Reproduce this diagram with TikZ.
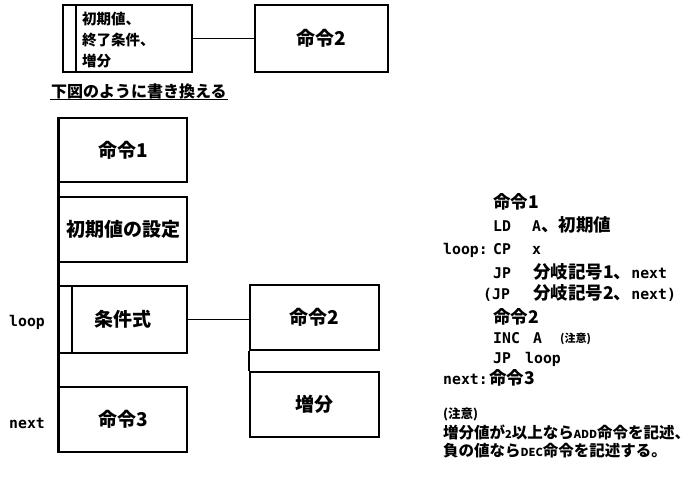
\documentclass[tikz,border=0pt]{standalone}
\usepackage{fontspec}
\newfontfamily\jp{Noto Sans CJK JP}
\newfontfamily\mono{DejaVu Sans Mono}
\newcommand\codejp{\jp\bfseries\fontsize{17.5}{20}\selectfont}
\newcommand\codemono{\mono\bfseries\fontsize{14.8}{17}\selectfont}
\newcommand\notejp{\jp\bfseries\fontsize{15.5}{18}\selectfont}
\newcommand\notesmall{\jp\bfseries\fontsize{11}{12}\selectfont}
\begin{document}
\begin{tikzpicture}[x=1pt,y=-1pt,
  box/.style={draw, line width=1.8pt, inner sep=0pt, font=\jp\bfseries\fontsize{19}{22}\selectfont},
  colbox/.style={box, minimum width=128pt, minimum height=65pt},
  rbox/.style={box, minimum width=129pt, minimum height=65pt},
  code/.style={anchor=base west, inner sep=0pt},
  lbl/.style={anchor=west, inner sep=0pt, font=\codemono}]
\useasboundingbox (0,0) rectangle (692,486);
% top part
\node[box, minimum width=129pt, minimum height=67pt] (t1) at (127.5,38.5) {};
\node[anchor=west, align=left, inner sep=0pt, font=\jp\bfseries\fontsize{14.5}{21}\selectfont] (t1txt) at (82,40) {初期値、\\終了条件、\\増分};
\node[box, minimum width=133pt, minimum height=67pt] (t2) at (321.5,38.5) {命令2};
\draw[line width=1.8pt] ([xshift=14pt]t1.north west) -- ([xshift=14pt]t1.south west);
\draw[line width=1.3pt] (t1.east) -- (t2.west);
\node[anchor=west, inner sep=1pt, font=\jp\bfseries\fontsize{16}{18}\selectfont] (h) at (50,91) {下図のように書き換える};
\draw[line width=1pt] (h.south west) -- (h.south east);
% left column
\node[colbox, minimum height=64pt] (b1) at (123,150) {命令1};
\node[colbox] (b2) at (123,229.5) {初期値の設定};
\node[colbox, minimum height=67pt] (b3) at (123,319.5) {条件式};
\node[colbox] (b4) at (123,419.5) {命令3};
\draw[line width=3pt] (b1.north west) -- (b4.south west);
\draw[line width=1.8pt] ([xshift=14pt]b3.north west) -- ([xshift=14pt]b3.south west);
% right column
\node[rbox] (r1) at (314.5,317.5) {命令2};
\node[rbox] (r2) at (314.5,404.5) {増分};
\draw[line width=1.8pt] (r1.south west) -- (r2.north west);
\draw[line width=1pt] (b3.east) -- (b3.east -| r1.west);
% labels
\node[lbl] (lloop) at (9,322) {loop};
\node[lbl] (lnext) at (9,423) {next};
% code
\node[code] (c1) at (493,208) {\codejp 命令1};
\node[code] (c2a) at (493,231) {\codemono LD};
\node[code] (c2b) at (532,231) {\codemono A\codejp 、初期値};
\node[code] (c3a) at (443,254) {\codemono loop:};
\node[code] (c3b) at (493,254) {\codemono CP};
\node[code] (c3c) at (532,254) {\codemono x};
\node[code] (c4a) at (493,278) {\codemono JP};
\node[code] (c4b) at (533,278) {\codejp 分岐記号1、\codemono next};
\node[code] (c5a) at (483,299) {\codemono (JP};
\node[code] (c5b) at (533,299) {\codejp 分岐記号2、\codemono next)};
\node[code] (c6) at (493,323) {\codejp 命令2};
\node[code] (c7a) at (493,343) {\codemono INC};
\node[code] (c7b) at (533,343) {\codemono A};
\node[code] (c7c) at (560,342) {\notesmall (注意)};
\node[code] (c8a) at (493,363) {\codemono JP};
\node[code] (c8b) at (525,363) {\codemono loop};
\node[code] (c9a) at (443,384) {\codemono next:};
\node[code] (c9b) at (489,384) {\codejp 命令3};
% note
\node[code] (n1) at (443,418) {\jp\bfseries\fontsize{12.5}{14}\selectfont (注意)};
\node[code] (n2) at (443,438) {\notejp 増分値が{\notesmall 2}以上なら{\notesmall ADD}命令を記述、};
\node[code] (n3) at (443,456) {\notejp 負の値なら{\notesmall DEC}命令を記述する。};
\end{tikzpicture}
\end{document}
